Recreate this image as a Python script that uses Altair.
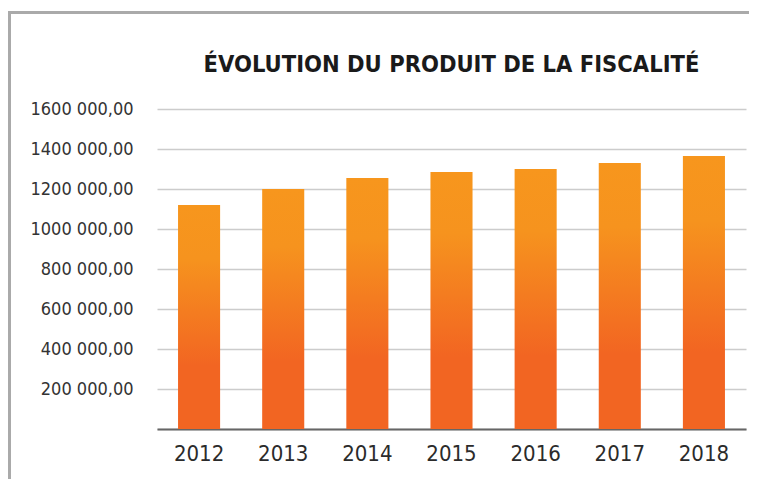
import altair as alt
import pandas as pd

# Data
years = ["2012", "2013", "2014", "2015", "2016", "2017", "2018"]
values = [1120000, 1200000, 1255000, 1285000, 1300000, 1330000, 1365000]
y_ticks = [0, 200000, 400000, 600000, 800000, 1000000, 1200000, 1400000, 1600000]
title_text = "ÉVOLUTION DU PRODUIT DE LA FISCALITÉ"

df = pd.DataFrame({"annee": years, "produit": values})
one = pd.DataFrame({"a": [0]})

NARROW = "Liberation Sans Narrow, DejaVu Sans Condensed, Roboto Condensed, sans-serif"

grad = alt.Gradient(
    gradient="linear",
    x1=0, x2=0, y1=0, y2=1,
    stops=[
        alt.GradientStop(color="#F7961D", offset=0),
        alt.GradientStop(color="#F6931E", offset=0.24),
        alt.GradientStop(color="#F26522", offset=0.72),
        alt.GradientStop(color="#F26522", offset=1),
    ],
)

label_expr = (
    "datum.value == 0 ? '' : "
    "substring(format(datum.value, 'd'), 0, length(format(datum.value, 'd')) - 3) + ' ' + "
    "substring(format(datum.value, 'd'), length(format(datum.value, 'd')) - 3) + ',00'"
)

bars = alt.Chart(df).mark_bar(color=grad).encode(
    x=alt.X(
        "annee:N",
        sort=years,
        scale=alt.Scale(paddingInner=0.5, paddingOuter=0.25),
        axis=alt.Axis(
            title=None,
            labelAngle=0,
            ticks=False,
            labelPadding=14,
            labelFont=NARROW,
            labelFontSize=22,
            labelColor="#2b2b2b",
            domainColor="#666666",
            domainWidth=2,
            grid=False,
        ),
    ),
    y=alt.Y(
        "produit:Q",
        scale=alt.Scale(domain=[0, 1600000], nice=False),
        axis=alt.Axis(
            title=None,
            values=y_ticks,
            labelExpr=label_expr,
            domain=False,
            ticks=False,
            labelPadding=24,
            labelFont=NARROW,
            labelFontSize=18,
            labelColor="#333333",
            gridColor="#cccccc",
            gridWidth=1.6,
        ),
    ),
)

frame_left = alt.Chart(one).mark_rule(color="#aaaaaa", strokeWidth=3).encode(
    x=alt.value(-147.5), y=alt.value(-98), y2=alt.value(400)
)
frame_top = alt.Chart(one).mark_rule(color="#aaaaaa", strokeWidth=3).encode(
    x=alt.value(-149), x2=alt.value(620), y=alt.value(-96.5)
)

chart = (
    alt.layer(frame_left, frame_top, bars)
    .properties(
        width=589,
        height=320,
        autosize=alt.AutoSizeParams(type="none"),
        padding={"left": 149, "top": 101, "right": 3, "bottom": 50},
        title=alt.TitleParams(
            title_text,
            font="DejaVu Sans Condensed, Liberation Sans Narrow, sans-serif",
            fontSize=23.5,
            fontWeight="bold",
            color="#1a1a1a",
            anchor="middle",
            frame="group",
            offset=-67,
        ),
    )
    .configure_view(strokeWidth=0)
)

chart.save("out.html", embed_options={"renderer": "svg", "actions": False})
